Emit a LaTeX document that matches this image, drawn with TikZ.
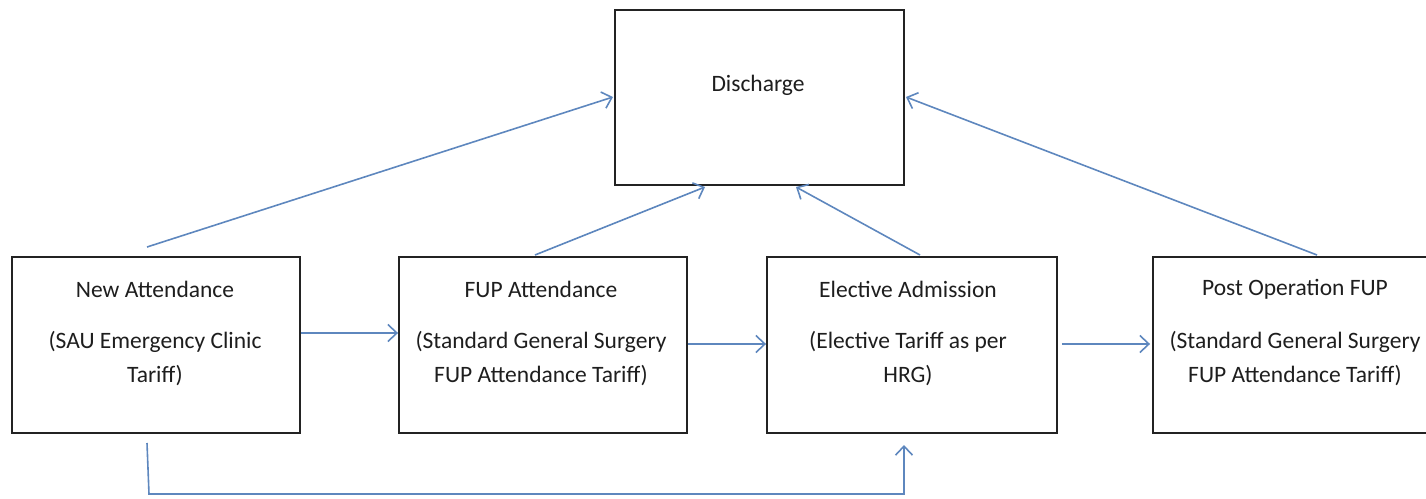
\documentclass[tikz,border=0pt]{standalone}
\usepackage{fontspec}
\setmainfont{Carlito}
\usetikzlibrary{arrows.meta}
\definecolor{linkblue}{RGB}{94,135,190}
\definecolor{boxline}{RGB}{35,35,35}
\definecolor{txt}{RGB}{30,30,30}
\tikzset{
  stagebox/.style={draw=boxline, line width=1.9pt, fill=white, minimum width=288pt, minimum height=176pt, inner sep=0pt},
  lbl/.style={text=txt, font=\fontsize{23.5}{34}\selectfont, align=center, inner sep=0pt},
  flow/.style={draw=linkblue, line width=1.6pt, -{Straight Barb[length=9pt,width=17pt,line width=1.6pt]}}
}
\begin{document}
\begin{tikzpicture}[x=1pt,y=-1pt]
\useasboundingbox (0,0) rectangle (1426,498);
% boxes
\node[stagebox, minimum width=289pt, minimum height=175pt] (dis) at (759.5,97.5) {};
\node[stagebox] (na) at (156,345) {};
\node[stagebox] (fup) at (543,345) {};
\node[stagebox, minimum width=290pt] (ea) at (912,345) {};
\node[stagebox, minimum width=289pt] (po) at (1297.5,345) {};
% texts
\node[lbl] (tdis) at (758,85) {Discharge};
\node[lbl] (tna1) at (155,289) {New Attendance};
\node[lbl] (tna2) at (155,359) {(SAU Emergency Clinic\\Tariff)};
\node[lbl] (tfup1) at (541,289) {FUP Attendance};
\node[lbl] (tfup2) at (541,359) {(Standard General Surgery\\FUP Attendance Tariff)};
\node[lbl] (tea1) at (908,289) {Elective Admission};
\node[lbl] (tea2) at (908,359) {(Elective Tariff as per\\HRG)};
\node[lbl] (tpo1) at (1295,289) {Post Operation FUP};
\node[lbl] (tpo2) at (1295,359) {(Standard General Surgery\\FUP Attendance Tariff)};
% connector anchor points
\coordinate (s1) at (147,247);
\coordinate (e1) at (613,97);
\coordinate (s2) at (535,255);
\coordinate (e2) at (705,187);
\coordinate (s3) at (920,255);
\coordinate (e3) at (796,187);
\coordinate (s4) at (1317,255);
\coordinate (e4) at (906,97);
\coordinate (b0) at (147,443);
\coordinate (b1) at (149,494);
\coordinate (b2) at (904,494);
\coordinate (b3) at (904,445);
% connectors
\draw[flow] (s1) -- (e1);
\draw[flow] (s2) -- (e2);
\draw[flow] (s3) -- (e3);
\draw[flow] (s4) -- (e4);
\draw[flow] (na.east |- 0,333) -- (fup.west |- 0,333);
\draw[flow] (fup.east |- 0,344) -- (ea.west |- 0,344);
\draw[flow] ([xshift=4pt]ea.east |- 0,344) -- ([xshift=-2pt]po.west |- 0,344);
\draw[flow] (b0) -- (b1) -- (b2) -- (b3);
\end{tikzpicture}
\end{document}
